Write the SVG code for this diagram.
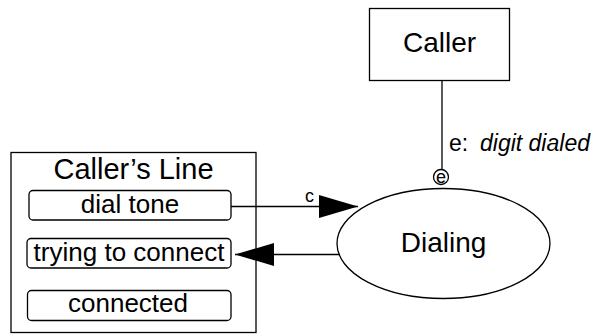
<svg xmlns="http://www.w3.org/2000/svg" width="591" height="334" viewBox="0 0 591 334">
<style>
text{font-family:"Liberation Sans",Arial,sans-serif;fill:#000}
.box{fill:#fff;stroke:#000;stroke-width:1.3}
.st{fill:#fff;stroke:#000;stroke-width:1.3}
.ln{fill:none;stroke:#000;stroke-width:1.3}
.big{font-size:28px;text-anchor:middle}
.mid{font-size:26px;text-anchor:middle}
.lbl{font-size:23px}
</style>
<defs>
<marker id="ah" viewBox="0 0 39 23" refX="39" refY="11.5" markerWidth="39" markerHeight="23" markerUnits="userSpaceOnUse" orient="auto">
<path d="M0,0 L39,11.5 L0,23 Z" fill="#000"/>
</marker>
</defs>
<rect width="591" height="334" fill="#fff"/>
<g id="caller">
<rect class="box" x="369.5" y="8.5" width="140" height="72"/>
<text class="big" x="439.5" y="52">Caller</text>
</g>
<g id="dialing">
<ellipse class="ln" cx="443.5" cy="243.5" rx="106.5" ry="55"/>
<text class="big" x="443.5" y="252">Dialing</text>
</g>
<g id="callers-line">
<rect class="box" x="11" y="152.5" width="245" height="180"/>
<text x="133.5" y="179" font-size="29" text-anchor="middle">Caller’s Line</text>
<g id="dial-tone">
<rect class="st" x="29" y="190.5" width="202" height="29.5" rx="4"/>
<text class="mid" x="130" y="212.5">dial tone</text>
</g>
<g id="trying-to-connect">
<rect class="st" x="27" y="238.5" width="204" height="29.5" rx="4"/>
<text class="mid" x="129" y="260.5">trying to connect</text>
</g>
<g id="connected">
<rect class="st" x="27.5" y="290.5" width="203.5" height="30" rx="4"/>
<text class="mid" x="128" y="312">connected</text>
</g>
</g>
<g id="connectors">
<line class="ln" x1="442" y1="80" x2="442" y2="170"/>
<circle class="st" cx="441" cy="177" r="7.5"/>
<text x="441" y="183" font-size="18" text-anchor="middle">e</text>
<text class="lbl" x="449" y="151">e:</text>
<text class="lbl" x="480" y="151" font-style="italic">digit dialed</text>
<line class="ln" x1="231" y1="206.5" x2="358" y2="206.5" marker-end="url(#ah)"/>
<text x="305" y="202" font-size="18">c</text>
<line class="ln" x1="340" y1="254.5" x2="235" y2="254.5" marker-end="url(#ah)"/>
</g>
</svg>
